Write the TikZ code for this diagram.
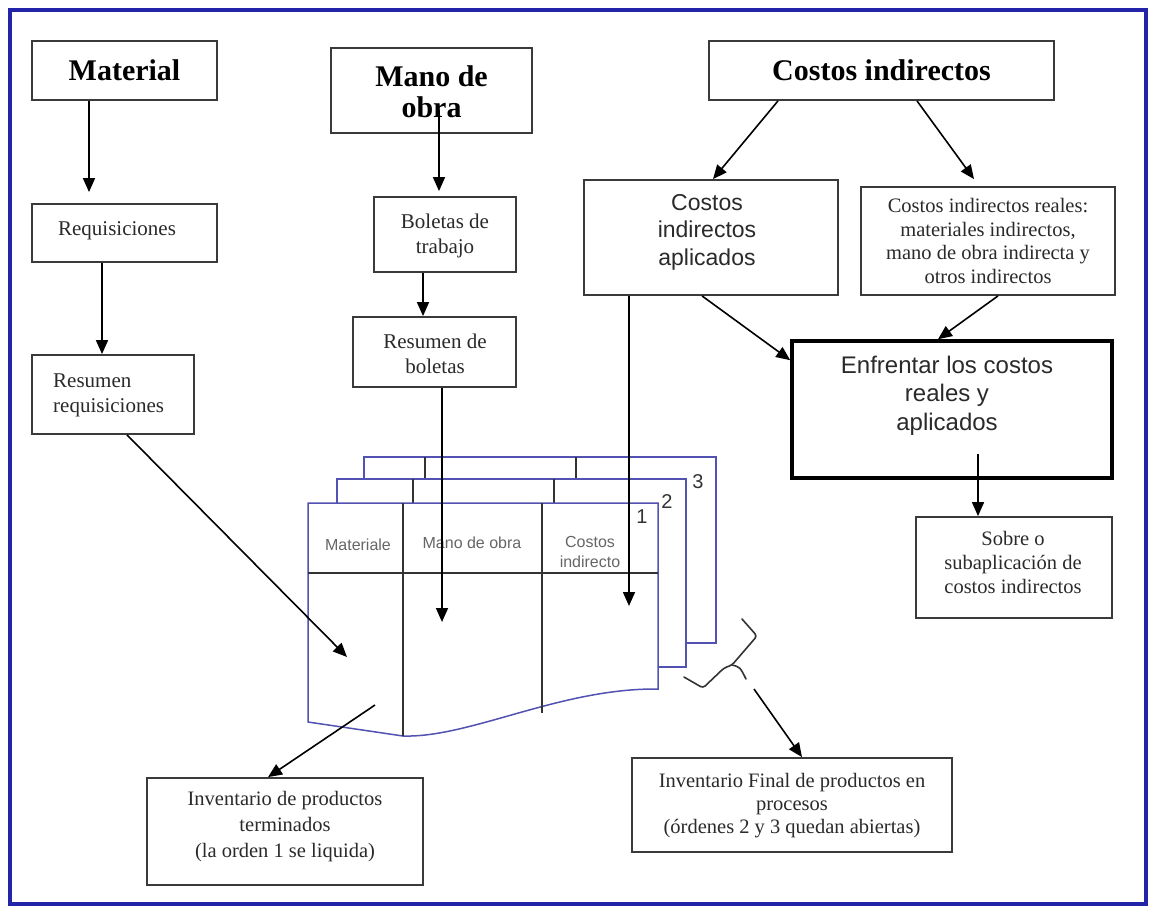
\documentclass[tikz,border=0pt]{standalone}
\usepackage{fontspec}
\setmainfont{Liberation Serif}
\setsansfont{Liberation Sans}
\usetikzlibrary{arrows.meta}
\definecolor{boxc}{HTML}{3A3A3A}
\definecolor{txtc}{HTML}{2A2A2A}
\definecolor{framec}{HTML}{2424AA}
\definecolor{sheetc}{HTML}{5252B2}
\definecolor{divc}{HTML}{333333}
\definecolor{hdrc}{HTML}{666666}
\begin{document}
\begin{tikzpicture}[x=1pt,y=-1pt,
  box/.style={draw=boxc, line width=1.8pt, inner sep=0pt, rectangle},
  thickbox/.style={draw=black, line width=3.6pt, inner sep=0pt, rectangle},
  hd/.style={font=\bfseries\fontsize{30}{31}\selectfont, text=black, inner sep=0pt, align=center},
  ser/.style={font=\fontsize{21}{25}\selectfont, text=txtc, inner sep=0pt, align=center},
  sers/.style={font=\fontsize{20.5}{24}\selectfont, text=txtc, inner sep=0pt, align=center},
  sans/.style={font=\sffamily\fontsize{23}{27.5}\selectfont, text=txtc, inner sep=0pt, align=center},
  hdr/.style={font=\sffamily\fontsize{16}{20}\selectfont, text=hdrc, inner sep=0pt, align=center},
  num/.style={font=\sffamily\fontsize{20}{22}\selectfont, text=divc, inner sep=0pt},
  arr/.style={draw=black, line width=1.6pt, -{Triangle[length=14pt,width=12pt]}},
  sheet/.style={draw=sheetc, fill=white, line width=1.5pt},
  divl/.style={draw=divc, line width=1.5pt},
  bracel/.style={draw=divc, line width=1.6pt, rounded corners=3pt, line cap=round}
]
\useasboundingbox (0,0) rectangle (1150,908);
\fill[white] (0,0) rectangle (1150,908);
\draw[framec, line width=4.5pt] (10,10) rectangle (1146,904);

% ---------- boxes ----------
\node[box, minimum width=185pt, minimum height=59pt] (mat) at (124.5,70.5) {};
\node[box, minimum width=201pt, minimum height=85pt] (mano) at (431.5,90.5) {};
\node[box, minimum width=345pt, minimum height=59pt] (ci) at (881.5,70.5) {};
\node[box, minimum width=185pt, minimum height=58pt] (req) at (124.5,233) {};
\node[box, minimum width=162pt, minimum height=79pt] (resreq) at (113,394.5) {};
\node[box, minimum width=142pt, minimum height=75pt] (bol) at (445,234.5) {};
\node[box, minimum width=163pt, minimum height=70pt] (resbol) at (434.5,352) {};
\node[box, minimum width=254pt, minimum height=115pt] (apl) at (711,237.5) {};
\node[box, minimum width=254pt, minimum height=108pt] (reales) at (988,241) {};
\node[thickbox, minimum width=320pt, minimum height=137pt] (enf) at (952,409.5) {};
\node[box, minimum width=196pt, minimum height=101pt] (sobre) at (1014,567.5) {};
\node[box, minimum width=276pt, minimum height=107pt] (invT) at (285,831.5) {};
\node[box, minimum width=320pt, minimum height=94pt] (invF) at (792,805) {};

% ---------- texts ----------
\node[hd] (matT) at (124.5,70) {Material};
\node[hd] (manoT) at (431.5,91.5) {Mano de\\obra};
\node[hd] (ciT) at (881.5,70) {Costos indirectos};
\node[ser] (reqT) at (117,231) {Requisiciones};
\node[ser, align=left, anchor=west] (resreqT) at (53,395) {Resumen\\requisiciones};
\node[ser] (bolT) at (445,236) {Boletas de\\trabajo};
\node[ser] (resbolT) at (435,354) {Resumen de\\boletas};
\node[sans] (aplT) at (707,232) {Costos\\indirectos\\aplicados};
\node[sers, font=\fontsize{20.5}{23.5}\selectfont] (realesT) at (988,241) {Costos indirectos reales:\\materiales indirectos,\\mano de obra indirecta y\\otros indirectos};
\node[sans, font=\sffamily\fontsize{24}{28.5}\selectfont] (enfT) at (947,395.5) {Enfrentar los costos\\reales y\\aplicados};
\node[sers] (sobreT) at (1013,562) {Sobre o\\subaplicación de\\costos indirectos};
\node[sers, font=\fontsize{20.5}{26}\selectfont] (invTT) at (285,827) {Inventario de productos\\terminados\\(la orden 1 se liquida)};
\node[sers, font=\fontsize{20.5}{23}\selectfont] (invFT) at (792,806) {Inventario Final de productos en\\procesos\\(órdenes 2 y 3 quedan abiertas)};

% ---------- order sheets ----------
\draw[sheet] (364,457) rectangle (716,643);
\draw[divl] (425,457) -- (425,479) (576,457) -- (576,479);
\draw[sheet] (337,479) rectangle (686,667);
\draw[divl] (413,479) -- (413,503) (554,479) -- (554,503);
\draw[sheet] (308,503) -- (658,503) -- (658,689)
  .. controls (560,688) and (470,738) .. (403,736) -- (308,722) -- cycle;
\draw[divl] (308,573) -- (658,573) (403,503) -- (403,736) (542,503) -- (542,713);
\node[hdr] (hMat) at (358,545) {Materiale};
\node[hdr] (hMano) at (472,543) {Mano de obra};
\node[hdr] (hCI) at (590,552) {Costos\\indirecto};
\node[num] (n1) at (642,517) {1};
\node[num] (n2) at (667,502) {2};
\node[num] (n3) at (698,482) {3};

\coordinate (tMat) at (347,657);
\coordinate (tMano) at (442,622);
\coordinate (tCI) at (629,606);
\coordinate (tOut) at (375,705);

% brace (angular)
\draw[bracel] (742,619) -- (757,636) -- (732,665) -- (724,668) -- (703,688) -- (684,677);
\draw[bracel] (732,665) .. controls (740,667) .. (746,679);
\coordinate (brTip) at (754,689);

% ---------- connectors ----------
\draw[arr, shorten >=11pt] ([xshift=-35.5pt]mat.south) -- ([xshift=-35.5pt]req.north);
\draw[arr] ([xshift=-22.5pt]req.south) -- ([xshift=-11pt]resreq.north);
\draw[arr, shorten >=5pt] ([xshift=7.5pt,yshift=-19.5pt]mano.center) -- ([xshift=-6pt]bol.north);
\draw[arr] ([xshift=-22pt]bol.south) -- ([xshift=-11.5pt]resbol.north);
\draw[arr] ([xshift=-103.5pt]ci.south) -- ([xshift=2pt]apl.north);
\draw[arr] ([xshift=35.5pt]ci.south) -- ([xshift=-14pt,yshift=7pt]reales.north);
\draw[arr] ([xshift=-9pt]apl.south) -- ([yshift=-21pt]enf.north west);
\draw[arr] ([xshift=10pt]reales.south) -- ([xshift=-14pt]enf.north);
\draw[arr] ([xshift=26pt,yshift=26pt]enf.south) -- ([xshift=-36pt]sobre.north);
\draw[arr] ([xshift=14pt]resreq.south) -- (tMat);
\draw[arr] ([xshift=7.5pt]resbol.south) -- (tMano);
\draw[arr] ([xshift=-82pt]apl.south) -- (tCI);
\draw[arr] (tOut) -- ([xshift=-17pt]invT.north);
\draw[arr] (brTip) -- ([xshift=10pt]invF.north);
\end{tikzpicture}
\end{document}
